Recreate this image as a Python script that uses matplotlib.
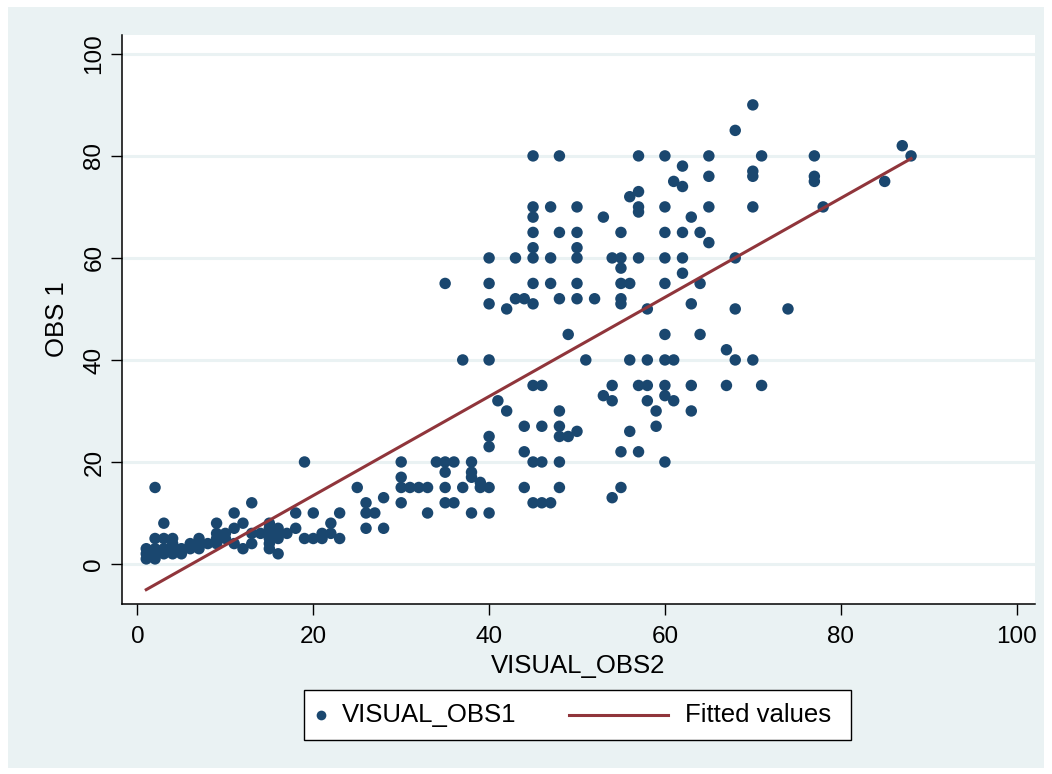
import numpy as np
import matplotlib
matplotlib.use("Agg")
import matplotlib.pyplot as plt
from matplotlib.patches import Rectangle
from matplotlib.lines import Line2D

plt.rcParams["font.family"] = ["Liberation Sans", "DejaVu Sans"]

# Paired observations: second rater (x) against first rater (y)
visual_obs2 = [
    1, 1, 1, 2, 2, 2, 2, 2, 3, 3, 3, 3, 4, 4, 4, 4, 5, 5, 6, 6, 7, 7, 7, 8, 9, 9, 9, 9, 10, 10,
    11, 11, 11, 12, 12, 13, 13, 13, 14, 15, 15, 15, 15, 15, 15, 16, 16, 16, 16, 17,
    18, 18, 19, 19, 20, 20, 21, 21, 22, 22, 23, 23,
    25, 26, 26, 26, 27, 28, 28, 30, 30, 30, 30, 31, 32, 33, 33,
    34, 35, 35, 35, 35, 35, 36, 36, 37, 37, 38, 38, 38, 38, 39, 39,
    40, 40, 40, 40, 40, 40, 40, 40, 41, 42, 42, 43, 43, 44, 44, 44, 44,
    45, 45, 45, 45, 45, 45, 45, 45, 45, 45, 45, 46, 46, 46, 46, 47, 47, 47, 47,
    48, 48, 48, 48, 48, 48, 48, 48, 49, 49, 50, 50, 50, 50, 50, 50, 50, 51, 52,
    53, 53, 54, 54, 54, 54, 55, 55, 55, 55, 55, 55, 55, 55, 56, 56, 56, 56,
    57, 57, 57, 57, 57, 57, 57, 58, 58, 58, 58, 59, 59,
    60, 60, 60, 60, 60, 60, 60, 60, 60, 60, 61, 61, 61, 62, 62, 62, 62, 62,
    63, 63, 63, 63, 64, 64, 64, 65, 65, 65, 65,
    67, 67, 68, 68, 68, 68, 70, 70, 70, 70, 70, 71, 71, 74, 77, 77, 77, 78, 85, 87, 88,
]
visual_obs1 = [
    1, 2, 3, 1, 2, 3, 5, 15, 2, 3, 5, 8, 2, 3, 4, 5, 2, 3, 3, 4, 3, 4, 5, 4, 4, 5, 6, 8, 5, 6,
    4, 7, 10, 3, 8, 4, 6, 12, 6, 3, 4, 5, 6, 7, 8, 2, 5, 6, 7, 6,
    7, 10, 5, 20, 5, 10, 5, 6, 6, 8, 5, 10,
    15, 7, 10, 12, 10, 7, 13, 12, 15, 17, 20, 15, 15, 10, 15,
    20, 12, 15, 18, 20, 55, 12, 20, 15, 40, 10, 17, 18, 20, 15, 16,
    10, 15, 23, 25, 40, 51, 55, 60, 32, 30, 50, 52, 60, 15, 22, 27, 52,
    12, 20, 35, 51, 55, 60, 62, 65, 68, 70, 80, 12, 20, 27, 35, 12, 55, 60, 70,
    15, 20, 25, 27, 30, 52, 65, 80, 25, 45, 26, 52, 55, 60, 62, 65, 70, 40, 52,
    33, 68, 13, 32, 35, 60, 15, 22, 51, 52, 55, 58, 60, 65, 26, 40, 55, 72,
    22, 35, 60, 69, 70, 73, 80, 32, 35, 40, 50, 27, 30,
    20, 33, 35, 40, 45, 55, 60, 65, 70, 80, 32, 40, 75, 57, 60, 65, 74, 78,
    30, 35, 51, 68, 45, 55, 65, 63, 70, 76, 80,
    35, 42, 40, 50, 60, 85, 40, 70, 76, 77, 90, 35, 80, 50, 75, 76, 80, 70, 75, 82, 80,
]

x_ticks = [0, 20, 40, 60, 80, 100]
y_ticks = [0, 20, 40, 60, 80, 100]
legend_labels = ["VISUAL_OBS1", "Fitted values"]

navy = "#1A476F"
maroon = "#90353B"
region_bg = "#EAF2F3"

x = np.array(visual_obs2, dtype=float)
y = np.array(visual_obs1, dtype=float)
slope, intercept = np.polyfit(x, y, 1)
fit_x = np.array([x.min(), x.max()])
fit_y = intercept + slope * fit_x

W, H = 1052, 774
fig = plt.figure(figsize=(W / 100, H / 100), dpi=100)
fig.patch.set_facecolor("white")


def fx(px):
    return px / W


def fy(py):
    return 1 - py / H


# graph region background
fig.add_artist(Rectangle((fx(8), fy(768)), fx(1044) - fx(8), fy(7) - fy(768),
                         transform=fig.transFigure, facecolor=region_bg,
                         edgecolor="none", zorder=0))

ax = fig.add_axes([fx(122), fy(604), fx(1035) - fx(122), fy(35) - fy(604)])
ax.set_facecolor("white")
ax.set_xlim(-1.76, 102.1)
ax.set_ylim(-7.84, 103.7)

for v in y_ticks:
    ax.axhline(v, color=region_bg, lw=2.2, zorder=1)

ax.scatter(x, y, s=68, color=navy, edgecolors="none", zorder=3)
ax.plot(fit_x, fit_y, color=maroon, lw=2.2, zorder=4)

for side in ("top", "right"):
    ax.spines[side].set_visible(False)
for side in ("left", "bottom"):
    ax.spines[side].set_color("black")
    ax.spines[side].set_linewidth(1.1)

ax.set_xticks(x_ticks)
ax.set_yticks(y_ticks)
ax.tick_params(axis="both", direction="out", length=8, width=1.0, colors="black",
               labelsize=17.5)
ax.tick_params(axis="x", pad=8)
ax.tick_params(axis="y", pad=4)
for lab in ax.get_yticklabels():
    lab.set_rotation(90)
    lab.set_va("center")

ax.set_xlabel("VISUAL_OBS2", fontsize=18.5, labelpad=4)
ax.set_ylabel("OBS 1", fontsize=18.5, labelpad=10)

# legend box below the plot
legend_y = fy(715)
fig.add_artist(Rectangle((fx(304), fy(740)), fx(851) - fx(304), fy(690) - fy(740),
                         transform=fig.transFigure, facecolor="white",
                         edgecolor="black", linewidth=1.0, zorder=5))
fig.add_artist(Line2D([fx(321)], [legend_y], marker="o", linestyle="none",
                      color=navy, markersize=7.0, markeredgewidth=0,
                      transform=fig.transFigure, zorder=6))
fig.text(fx(342), legend_y, legend_labels[0], fontsize=18.5, va="center",
         ha="left", zorder=6)
fig.add_artist(Line2D([fx(569), fx(668)], [legend_y, legend_y], color=maroon,
                      lw=2.2, transform=fig.transFigure, zorder=6))
fig.text(fx(685), legend_y, legend_labels[1], fontsize=18.5, va="center",
         ha="left", zorder=6)

fig.savefig("out.png", dpi=100, facecolor=fig.get_facecolor())
